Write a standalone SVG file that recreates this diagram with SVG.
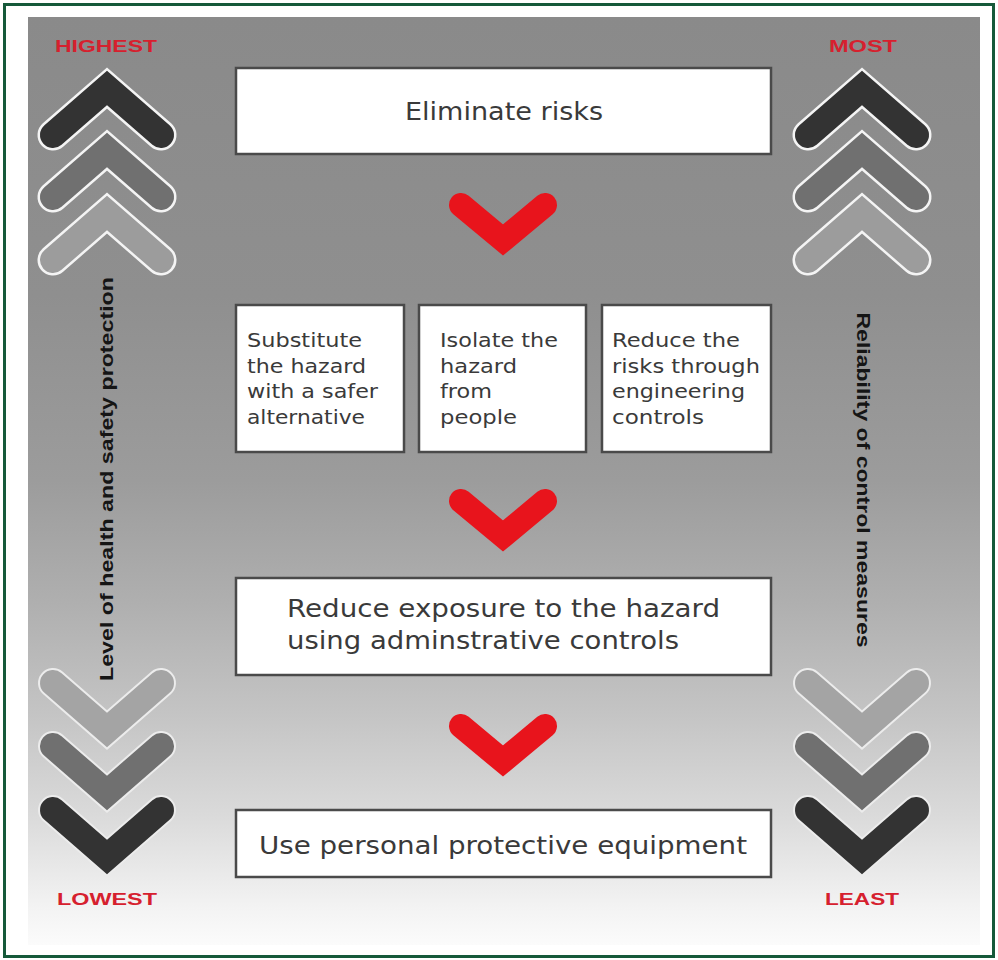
<svg xmlns="http://www.w3.org/2000/svg" width="998" height="960" viewBox="0 0 998 960">
  <defs>
    <linearGradient id="panelGrad" x1="0" y1="0" x2="0" y2="1">
      <stop offset="0" stop-color="#8a8a8a"/>
      <stop offset="0.3" stop-color="#8f8f8f"/>
      <stop offset="0.5" stop-color="#9c9c9c"/>
      <stop offset="0.63" stop-color="#afafaf"/>
      <stop offset="0.75" stop-color="#c4c4c4"/>
      <stop offset="0.86" stop-color="#dadada"/>
      <stop offset="0.96" stop-color="#f3f3f3"/>
      <stop offset="1" stop-color="#fbfbfb"/>
    </linearGradient>
    <filter id="soft" x="-5%" y="-5%" width="110%" height="120%">
      <feGaussianBlur stdDeviation="0.6"/>
    </filter>
    <!-- chevron outlines, centred on the apex of the centre line -->
    <path id="chevUp" d="M-54,47 L0,0 L54,47"/>
    <path id="chevDown" d="M-54,-47 L0,0 L54,-47"/>
    <path id="redChev" d="M-42,-35 L0,0 L42,-35"/>
  </defs>
  <style>
    .frame { fill: #ffffff; stroke: #16593a; stroke-width: 3; }
    .halo { fill: none; stroke: #f4f4f4; stroke-width: 31; stroke-linecap: round; stroke-linejoin: miter; stroke-miterlimit: 10; }
    .haloLow { fill: none; stroke: #ececec; stroke-width: 30; stroke-linecap: round; stroke-linejoin: miter; stroke-miterlimit: 10; }
    .chev { fill: none; stroke-width: 26; stroke-linecap: round; stroke-linejoin: miter; stroke-miterlimit: 10; }
    .dark { stroke: #333333; }
    .mid { stroke: #707070; }
    .light { stroke: #9c9c9c; }
    .lightLow { stroke: #a4a4a4; }
    .red { fill: none; stroke: #e8141c; stroke-width: 24; stroke-linecap: round; stroke-linejoin: miter; stroke-miterlimit: 10; }
    .box { fill: #ffffff; stroke: #4a4a4a; stroke-width: 2.5; }
    .boxText { font-family: "DejaVu Sans", "Liberation Sans", sans-serif; fill: #3a3a3a; }
    .big { font-size: 24px; }
    .small { font-size: 19px; }
    .rank { font-family: "Liberation Sans", "DejaVu Sans", sans-serif; font-weight: bold; font-size: 17px; fill: #d6202e; }
    .axis { font-family: "Liberation Sans", "DejaVu Sans", sans-serif; font-weight: bold; font-size: 18px; fill: #151515; }
  </style>

  <!-- frame and shaded panel -->
  <rect class="frame" x="4.5" y="4.5" width="989" height="952"/>
  <rect x="28" y="17" width="952" height="928" fill="url(#panelGrad)"/>

  <!-- left scale -->
  <g id="left-scale">
    <text class="rank" x="106" y="52" text-anchor="middle" textLength="102" lengthAdjust="spacingAndGlyphs">HIGHEST</text>
    <g transform="translate(107,88)"><use href="#chevUp" class="halo"/><use href="#chevUp" class="chev dark"/></g>
    <g transform="translate(107,150)"><use href="#chevUp" class="halo"/><use href="#chevUp" class="chev mid"/></g>
    <g transform="translate(107,213)"><use href="#chevUp" class="halo"/><use href="#chevUp" class="chev light"/></g>
    <text class="axis" transform="translate(113,479) rotate(-90)" text-anchor="middle" textLength="404" lengthAdjust="spacingAndGlyphs">Level of health and safety protection</text>
    <g transform="translate(107,730)"><use href="#chevDown" class="haloLow"/><use href="#chevDown" class="chev lightLow"/></g>
    <g transform="translate(107,793)"><use href="#chevDown" class="haloLow"/><use href="#chevDown" class="chev mid"/></g>
    <g transform="translate(107,857)"><use href="#chevDown" class="haloLow"/><use href="#chevDown" class="chev dark"/></g>
    <text class="rank" x="107" y="905" text-anchor="middle" textLength="100" lengthAdjust="spacingAndGlyphs">LOWEST</text>
  </g>

  <!-- right scale -->
  <g id="right-scale">
    <text class="rank" x="863" y="52" text-anchor="middle" textLength="68" lengthAdjust="spacingAndGlyphs">MOST</text>
    <g transform="translate(862,88)"><use href="#chevUp" class="halo"/><use href="#chevUp" class="chev dark"/></g>
    <g transform="translate(862,150)"><use href="#chevUp" class="halo"/><use href="#chevUp" class="chev mid"/></g>
    <g transform="translate(862,213)"><use href="#chevUp" class="halo"/><use href="#chevUp" class="chev light"/></g>
    <text class="axis" transform="translate(857,480) rotate(90)" text-anchor="middle" textLength="335" lengthAdjust="spacingAndGlyphs">Reliability of control measures</text>
    <g transform="translate(862,730)"><use href="#chevDown" class="haloLow"/><use href="#chevDown" class="chev lightLow"/></g>
    <g transform="translate(862,793)"><use href="#chevDown" class="haloLow"/><use href="#chevDown" class="chev mid"/></g>
    <g transform="translate(862,857)"><use href="#chevDown" class="haloLow"/><use href="#chevDown" class="chev dark"/></g>
    <text class="rank" x="862" y="905" text-anchor="middle" textLength="74" lengthAdjust="spacingAndGlyphs">LEAST</text>
  </g>

  <!-- hierarchy steps -->
  <g id="eliminate">
    <rect class="box" x="236" y="68" width="535" height="86"/>
    <text class="boxText big" x="504" y="120" text-anchor="middle" textLength="198" lengthAdjust="spacingAndGlyphs">Eliminate risks</text>
  </g>

  <g id="substitute">
    <rect class="box" x="236" y="305" width="168" height="147"/>
    <text class="boxText small">
      <tspan x="247" y="347" textLength="115" lengthAdjust="spacingAndGlyphs">Substitute</tspan>
      <tspan x="247" y="373" textLength="119" lengthAdjust="spacingAndGlyphs">the hazard</tspan>
      <tspan x="247" y="398" textLength="131" lengthAdjust="spacingAndGlyphs">with a safer</tspan>
      <tspan x="247" y="424" textLength="118" lengthAdjust="spacingAndGlyphs">alternative</tspan>
    </text>
  </g>

  <g id="isolate">
    <rect class="box" x="419" y="305" width="167" height="147"/>
    <text class="boxText small">
      <tspan x="440" y="347" textLength="118" lengthAdjust="spacingAndGlyphs">Isolate the</tspan>
      <tspan x="440" y="373" textLength="77" lengthAdjust="spacingAndGlyphs">hazard</tspan>
      <tspan x="440" y="398" textLength="52" lengthAdjust="spacingAndGlyphs">from</tspan>
      <tspan x="440" y="424" textLength="77" lengthAdjust="spacingAndGlyphs">people</tspan>
    </text>
  </g>

  <g id="engineering">
    <rect class="box" x="602" y="305" width="169" height="147"/>
    <text class="boxText small">
      <tspan x="612" y="347" textLength="128" lengthAdjust="spacingAndGlyphs">Reduce the</tspan>
      <tspan x="612" y="373" textLength="148" lengthAdjust="spacingAndGlyphs">risks through</tspan>
      <tspan x="612" y="398" textLength="133" lengthAdjust="spacingAndGlyphs">engineering</tspan>
      <tspan x="612" y="424" textLength="92" lengthAdjust="spacingAndGlyphs">controls</tspan>
    </text>
  </g>

  <g id="administrative">
    <rect class="box" x="236" y="578" width="535" height="97"/>
    <text class="boxText big">
      <tspan x="287" y="617" textLength="433" lengthAdjust="spacingAndGlyphs">Reduce exposure to the hazard</tspan>
      <tspan x="287" y="649" textLength="392" lengthAdjust="spacingAndGlyphs">using adminstrative controls</tspan>
    </text>
  </g>

  <g id="ppe">
    <rect class="box" x="236" y="810" width="535" height="67"/>
    <text class="boxText big" x="503" y="854" text-anchor="middle" textLength="488" lengthAdjust="spacingAndGlyphs">Use personal protective equipment</text>
  </g>

  <!-- red down-arrows between steps -->
  <g id="connectors">
    <use href="#redChev" class="red" transform="translate(503,240)"/>
    <use href="#redChev" class="red" transform="translate(503,536)"/>
    <use href="#redChev" class="red" transform="translate(503,761)"/>
  </g>
</svg>
